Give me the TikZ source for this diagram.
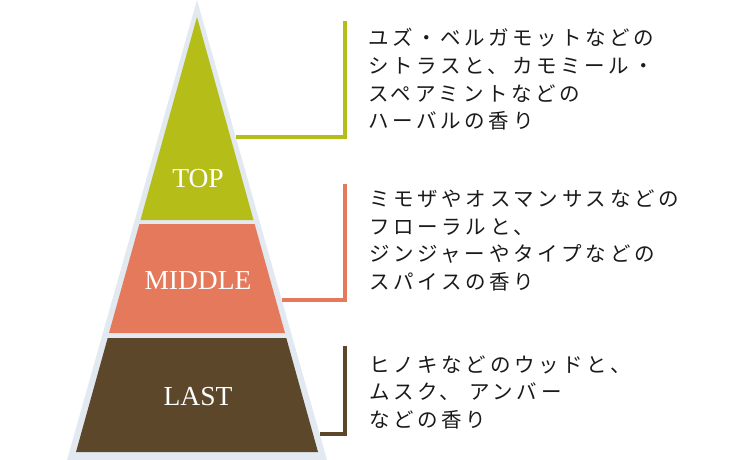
\documentclass[tikz,border=0pt]{standalone}
\usepackage{fontspec}
\setmainfont{Liberation Serif}
\newfontfamily\jpfont[LetterSpace=18]{Noto Sans CJK JP}
\definecolor{bandc}{HTML}{E2E9F1}
\definecolor{topc}{HTML}{B5BE19}
\definecolor{midc}{HTML}{E5795B}
\definecolor{lastc}{HTML}{5C472B}
\definecolor{txtc}{HTML}{1A1A1A}
\begin{document}
\begin{tikzpicture}[x=1pt,y=-1pt,
  jp/.style={anchor=base west, inner sep=0pt, text=txtc,
    font=\jpfont\fontsize{20.5}{27.5}\selectfont},
  lbl/.style={inner sep=0pt, text=white, font=\fontsize{27.5}{30}\selectfont},
  conn/.style={line width=3.2pt}]
\useasboundingbox (0,0) rectangle (750,460);
% pyramid
\fill[bandc] (197,0) -- (327,460) -- (67,460) -- cycle;
\fill[topc] (197,17) -- (253.5,220) -- (140.5,220) -- cycle;
\fill[midc] (139.4,224) -- (254.6,224) -- (285,333) -- (109,333) -- cycle;
\fill[lastc] (107.7,338) -- (286.3,338) -- (318,452) -- (76,452) -- cycle;
\node[lbl] (ltop) at (198,178.5) {TOP};
\node[lbl] (lmid) at (198,281) {MIDDLE};
\node[lbl] (llast) at (198,397) {LAST};
% connectors
\coordinate (te) at (236,137);
\coordinate (tt) at (345,21);
\coordinate (me) at (282,300);
\coordinate (mt) at (345,184);
\coordinate (le) at (320,434);
\coordinate (lt) at (345,346);
\draw[conn,topc] (te) -| (tt);
\draw[conn,midc] (me) -| (mt);
\draw[conn,lastc] (le) -| (lt);
% texts
\node[jp] (t1) at (368,46) {ユズ・ベルガモットなどの};
\node[jp] (t2) at (368,73.5) {シトラスと、カモミール・};
\node[jp] (t3) at (368,101) {スペアミントなどの};
\node[jp] (t4) at (368,128.5) {ハーバルの香り};
\node[jp] (m1) at (369,206.5) {ミモザやオスマンサスなどの};
\node[jp] (m2) at (369,234) {フローラルと、};
\node[jp] (m3) at (369,261.5) {ジンジャーやタイプなどの};
\node[jp] (m4) at (369,289) {スパイスの香り};
\node[jp] (b1) at (369,372) {ヒノキなどのウッドと、};
\node[jp] (b2) at (369,399.5) {ムスク、\hspace{9pt}アンバー};
\node[jp] (b3) at (369,427) {などの香り};
\end{tikzpicture}
\end{document}
